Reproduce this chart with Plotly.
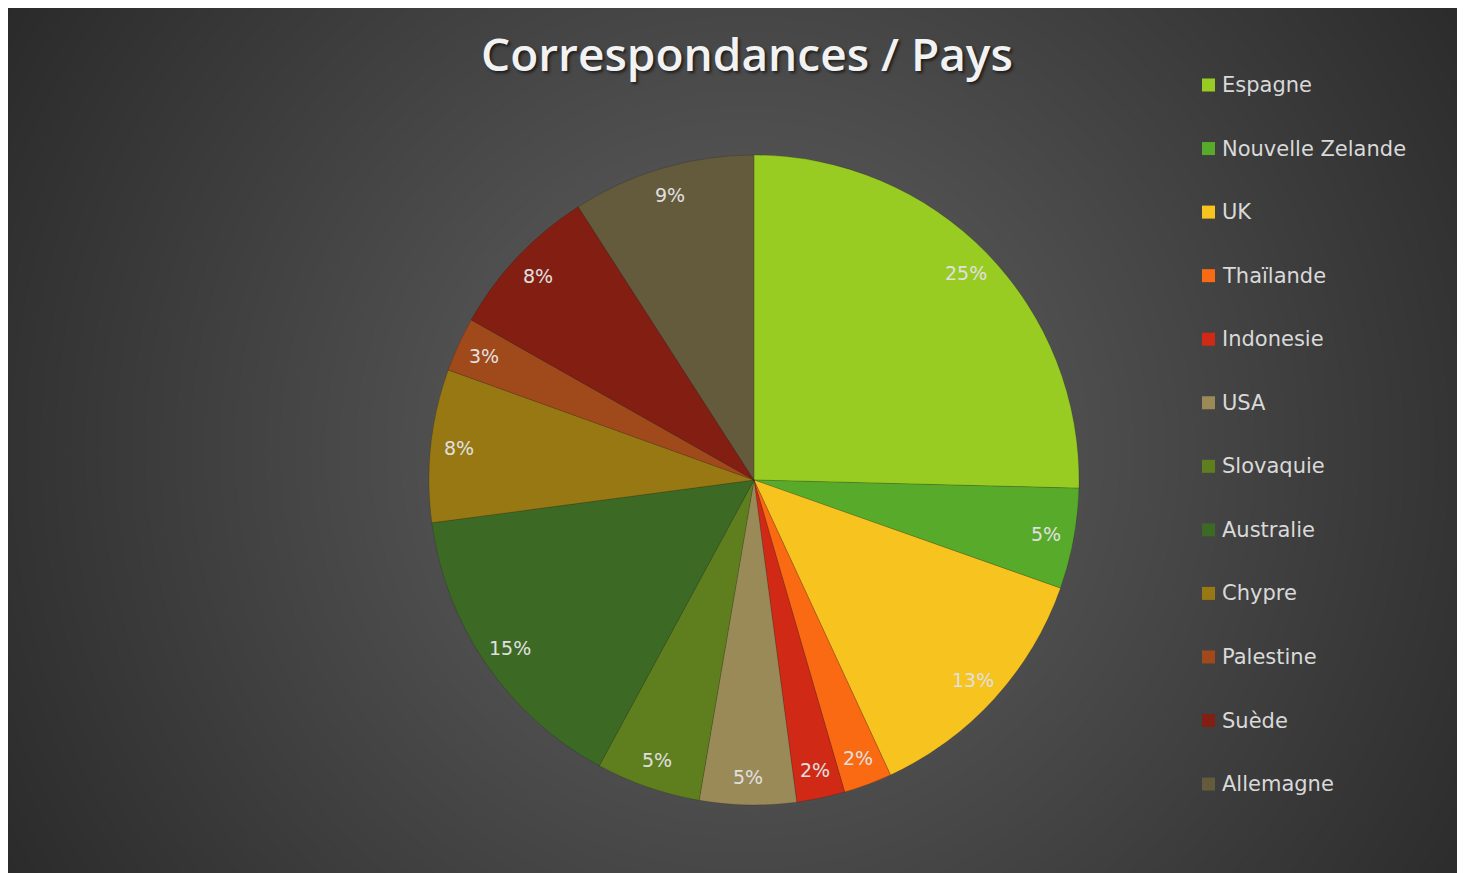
import numpy as np
import plotly.graph_objects as go

# ---- data ----
countries = ["Espagne", "Nouvelle Zelande", "UK", "Thaïlande", "Indonesie", "USA",
             "Slovaquie", "Australie", "Chypre", "Palestine", "Suède", "Allemagne"]
shares = [25.4, 5.0, 12.7, 2.4, 2.4, 4.8, 5.2, 15.0, 7.6, 2.7, 7.7, 9.1]
colors = ["#98cc22", "#58ab2a", "#f7c31f", "#f96a12", "#d02a16", "#9a8a58",
          "#5f7f1e", "#3c6a24", "#977812", "#a04a1c", "#821e12", "#645a3c"]
title_text = "Correspondances / Pays"

# ---- geometry (screenshot pixels; page body adds an 8px offset) ----
FW, FH = 1465, 865
OX, OY = 8, 8
CX, CY, R = 754, 480, 325


def px(x):
    return (x - OX) / FW


def py(y):
    return 1 - (y - OY) / FH


fig = go.Figure()
fig.add_trace(go.Pie(
    labels=countries, values=shares, sort=False, direction="clockwise", rotation=0,
    marker=dict(colors=colors, line=dict(color="rgba(0,0,0,0.25)", width=0.6)),
    textinfo="none", hoverinfo="label+percent", showlegend=False,
    domain=dict(x=[px(CX - R), px(CX + R)], y=[py(CY + R), py(CY - R)]),
))

shapes = []
# background: radial gradient built from concentric circles
shapes.append(dict(type="rect", xref="paper", yref="paper", x0=0, x1=1, y0=0, y1=1,
                   fillcolor="#2a2a2a", line=dict(width=0), layer="below"))
GX, GY = 745, 450
for rad in range(900, 0, -15):
    c = int(round(min(92, max(42, 100 - 0.067 * rad))))
    shapes.append(dict(type="circle", xref="paper", yref="paper",
                       x0=px(GX - rad), x1=px(GX + rad), y0=py(GY + rad), y1=py(GY - rad),
                       fillcolor=f"rgb({c},{c},{c})", line=dict(width=0), layer="below"))

annotations = []
# slice percentage labels
vals = np.array(shares, dtype=float)
frac = vals / vals.sum()
mids = (np.cumsum(frac) - frac / 2) * 2 * np.pi
for f, a in zip(frac, mids):
    lx = CX + 0.913 * R * np.sin(a)
    ly = CY - 0.913 * R * np.cos(a)
    annotations.append(dict(x=px(lx), y=py(ly), xref="paper", yref="paper",
                            text=f"{round(f * 100):.0f}%", showarrow=False,
                            xanchor="center", yanchor="middle",
                            font=dict(family="DejaVu Sans", size=19, color="#e0e0e0")))

# legend (manual, to match the wide row spacing)
LX, LY0, LDY, SW = 1202, 85, 63.55, 13
for i, (name, col) in enumerate(zip(countries, colors)):
    yy = LY0 + i * LDY
    shapes.append(dict(type="rect", xref="paper", yref="paper",
                       x0=px(LX), x1=px(LX + SW), y0=py(yy + SW / 2), y1=py(yy - SW / 2),
                       fillcolor=col, line=dict(width=0), layer="above"))
    annotations.append(dict(x=px(LX + 18), y=py(yy), xref="paper", yref="paper",
                            text=name, showarrow=False, xanchor="left", yanchor="middle",
                            font=dict(family="DejaVu Sans", size=21, color="#d9d9d9")))

# title
annotations.append(dict(x=px(747), y=py(53), xref="paper", yref="paper", text=title_text,
                        showarrow=False, xanchor="center", yanchor="middle",
                        font=dict(family="Open Sans", size=46, color="#f2f2f2", weight=600,
                                  shadow="2px 2px 3px rgba(0,0,0,0.6)")))

fig.update_layout(
    width=FW, height=FH, autosize=False,
    margin=dict(l=0, r=0, t=0, b=0, pad=0),
    paper_bgcolor="#2a2a2a", plot_bgcolor="#2a2a2a",
    shapes=shapes, annotations=annotations, showlegend=False,
)

fig.write_html("out.html")
